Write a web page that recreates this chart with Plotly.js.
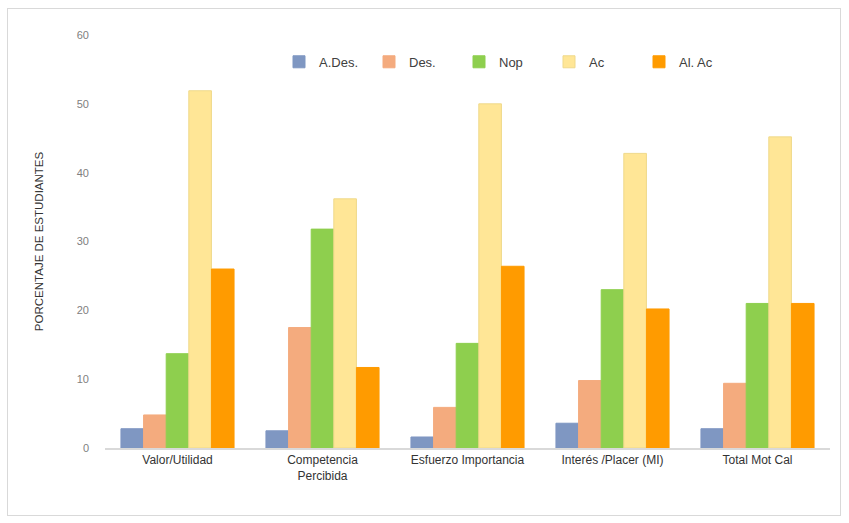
<!DOCTYPE html>
<html>
<head>
<meta charset="utf-8">
<script src="https://cdn.plot.ly/plotly-3.0.1.min.js"></script>
<style>
body{margin:0;background:#fff;}
#wrap{position:relative;width:849px;height:523px;}
#chart{position:absolute;left:0;top:0;width:849px;height:523px;}
#frame{position:absolute;left:7px;top:8px;width:832px;height:506px;border:1.5px solid #d9d9d9;pointer-events:none;}
</style>
</head>
<body>
<div id="wrap"><div id="chart"></div><div id="frame"></div></div>
<script>
const categories = ["Valor/Utilidad", "Competencia<br>Percibida", "Esfuerzo Importancia", "Interés /Placer (MI)", "Total Mot Cal"];
const seriesNames = ["A.Des.", "Des.", "Nop", "Ac", "Al. Ac"];
const aDes = [2.8, 2.5, 1.6, 3.6, 2.8];
const des  = [4.8, 17.5, 5.9, 9.8, 9.4];
const nop  = [13.7, 31.8, 15.2, 23.0, 21.0];
const ac   = [51.9, 36.2, 50.0, 42.8, 45.2];
const alAc = [26.0, 11.7, 26.4, 20.2, 21.0];
const yTicks = [0, 10, 20, 30, 40, 50, 60];

const colors = ["#7f97c2", "#f4ab7e", "#8ecf4e", "#ffe696", "#ff9b00"];
const lines  = ["#7f97c2", "#f4ab7e", "#8ecf4e", "#efd98a", "#ff9b00"];
const values = [aDes, des, nop, ac, alAc];

const traces = values.map((v, i) => ({
  type: "bar",
  name: seriesNames[i],
  x: categories,
  y: v,
  marker: {color: colors[i], line: {color: lines[i], width: 1}},
  hoverinfo: "y"
}));

const layout = {
  width: 849, height: 523,
  margin: {l: 105, r: 19, t: 35, b: 75},
  paper_bgcolor: "#fff", plot_bgcolor: "#fff",
  font: {family: "Liberation Sans, Arial, sans-serif", color: "#404040", size: 11},
  barmode: "group",
  bargap: 0.22,
  bargroupgap: 0,
  showlegend: true,
  legend: {
    orientation: "h", x: 0.24, xanchor: "left", y: 0.935, yanchor: "middle",
    font: {size: 13, color: "#404040"}, itemwidth: 30, traceorder: "normal",
    entrywidth: 45, entrywidthmode: "pixels"
  },
  xaxis: {
    showline: true, linecolor: "#d9d9d9", linewidth: 1.5,
    ticks: "", tickfont: {size: 12, color: "#333333"},
    showgrid: false
  },
  yaxis: {
    range: [0, 60], tickvals: yTicks, ticktext: yTicks.map(String),
    showgrid: false, zeroline: false, showline: false, ticks: "",
    ticklabelstandoff: 15,
    tickfont: {size: 11, color: "#808080"},
    title: {text: "PORCENTAJE DE ESTUDIANTES", font: {size: 11.5, color: "#333333"}, standoff: 30}
  }
};

Plotly.newPlot("chart", traces, layout, {displayModeBar: false, staticPlot: true});
</script>
</body>
</html>
